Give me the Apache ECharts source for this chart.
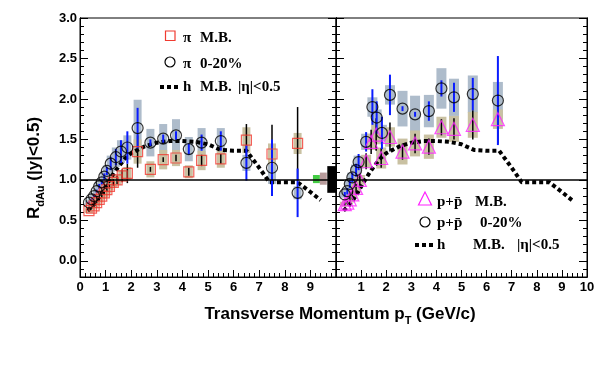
<!DOCTYPE html>
<html><head><meta charset="utf-8">
<script src="https://cdn.jsdelivr.net/npm/echarts@6/dist/echarts.min.js"></script>
<style>html,body{margin:0;padding:0;background:#fff}#c{width:600px;height:368px}</style>
</head><body><div id="c"></div>
<script>
// ---- Left panel: pi M.B. (red squares)
const piMbPt   = [0.35,0.45,0.55,0.65,0.75,0.85,0.95,1.05,1.15,1.3,1.45,1.65,1.85,2.25,2.75,3.25,3.75,4.25,4.75,5.5,6.5,7.5,8.5];
const piMbVal  = [0.62,0.65,0.68,0.72,0.76,0.80,0.84,0.88,0.92,0.97,1.00,1.05,1.08,1.35,1.13,1.25,1.27,1.10,1.24,1.26,1.49,1.32,1.45];
const piMbStat = [0.01,0.01,0.01,0.01,0.02,0.02,0.02,0.03,0.03,0.04,0.05,0.08,0.12,0.20,0.03,0.03,0.04,0.05,0.07,0.06,0.20,0.36,0.45];
const piMbSys  = [0.03,0.03,0.03,0.04,0.04,0.04,0.05,0.05,0.05,0.06,0.06,0.07,0.08,0.15,0.10,0.12,0.10,0.08,0.12,0.11,0.16,0.13,0.13];
// ---- Left panel: pi 0-20% (black circles)
const piCPt   = [0.35,0.45,0.55,0.65,0.75,0.85,0.95,1.05,1.2,1.4,1.6,1.85,2.25,2.75,3.25,3.75,4.25,4.75,5.5,6.5,7.5,8.5];
const piCVal  = [0.72,0.76,0.80,0.86,0.92,0.97,1.04,1.11,1.20,1.28,1.35,1.40,1.64,1.46,1.51,1.55,1.38,1.46,1.48,1.21,1.15,0.84];
const piCStat = [0.01,0.01,0.02,0.02,0.03,0.03,0.04,0.05,0.08,0.10,0.14,0.20,0.25,0.04,0.05,0.05,0.07,0.10,0.12,0.22,0.35,0.30];
const piCSys  = [0.03,0.03,0.04,0.04,0.05,0.05,0.06,0.07,0.10,0.12,0.14,0.15,0.35,0.17,0.18,0.20,0.15,0.18,0.16,0.10,0.20,0.08];
// ---- Right panel: p+pbar M.B. (magenta triangles)
const pMbPt   = [0.35,0.45,0.55,0.65,0.8,0.95,1.2,1.4,1.6,1.8,2.15,2.65,3.15,3.7,4.2,4.7,5.45,6.45];
const pMbVal  = [0.70,0.72,0.76,0.82,0.90,1.00,1.23,1.47,1.56,1.27,1.53,1.35,1.45,1.41,1.65,1.63,1.68,1.75];
const pMbStat = [0.02,0.02,0.03,0.04,0.05,0.07,0.10,0.15,0.20,0.12,0.18,0.10,0.12,0.10,0.10,0.13,0.18,0.30];
const pMbSys  = [0.03,0.03,0.04,0.04,0.05,0.06,0.08,0.10,0.12,0.13,0.12,0.16,0.16,0.15,0.13,0.16,0.16,0.12];
// ---- Right panel: p+pbar 0-20% (black circles)
const pCPt   = [0.35,0.45,0.55,0.65,0.8,0.9,1.2,1.45,1.62,1.83,2.15,2.65,3.15,3.7,4.2,4.7,5.45,6.45];
const pCVal  = [0.82,0.86,0.95,1.03,1.12,1.22,1.47,1.90,1.77,1.58,2.05,1.88,1.81,1.85,2.13,2.02,2.06,1.98];
const pCStat = [0.03,0.04,0.05,0.06,0.08,0.10,0.12,0.22,0.20,0.20,0.25,0.03,0.03,0.12,0.10,0.18,0.20,0.55];
const pCSys  = [0.04,0.04,0.05,0.06,0.07,0.08,0.10,0.12,0.10,0.10,0.12,0.22,0.23,0.20,0.25,0.23,0.23,0.23];
// ---- h M.B. |eta|<0.5 (dotted curve, both panels)
const hPt  = [0.3,0.5,0.7,0.9,1.1,1.3,1.5,1.75,2.0,2.5,3.0,3.5,4.0,4.5,5.0,5.5,6.0,6.5,7.0,7.4,8.0,8.5,9.0,9.4];
const hVal = [0.62,0.68,0.76,0.86,0.97,1.07,1.16,1.26,1.33,1.41,1.46,1.48,1.48,1.47,1.44,1.37,1.36,1.36,1.15,0.97,0.97,0.97,0.85,0.75];
// ---- normalization uncertainty boxes at R=1 (left panel, right edge)
const normX0 = [9.10, 9.37, 9.66];
const normX1 = [9.37, 9.64, 10.0];
const normLo = [0.96, 0.94, 0.84];
const normHi = [1.06, 1.09, 1.17];
// ---- ticks
const yTicks = [0, 0.5, 1.0, 1.5, 2.0, 2.5, 3.0];

const GRAY = '#aebccb', TAN = '#c9c1a2', BLUE = '#0a1cff', RED = '#f03a30', MAG = '#ff22ff';
const normColors = ['#44cc44', '#b89c9c', '#000000'];

function boxSeries(xi, yi, pts, vals, errs, color, hw) {
  return { type: 'custom', xAxisIndex: xi, yAxisIndex: yi, clip: true, silent: true, z: 1,
    data: pts.map((p, i) => [p, vals[i] - errs[i], vals[i] + errs[i]]),
    encode: { x: 0, y: [1, 2] },
    renderItem(params, api) {
      const a = api.coord([api.value(0), api.value(2)]);
      const b = api.coord([api.value(0), api.value(1)]);
      return { type: 'rect', shape: { x: a[0] - hw, y: a[1], width: 2 * hw, height: b[1] - a[1] }, style: { fill: color } };
    } };
}
function errSeries(xi, yi, pts, vals, errs, color, w) {
  return { type: 'custom', xAxisIndex: xi, yAxisIndex: yi, clip: true, silent: true, z: 3,
    data: pts.map((p, i) => [p, vals[i] - errs[i], vals[i] + errs[i]]),
    encode: { x: 0, y: [1, 2] },
    renderItem(params, api) {
      const a = api.coord([api.value(0), api.value(2)]);
      const b = api.coord([api.value(0), api.value(1)]);
      return { type: 'line', shape: { x1: a[0], y1: a[1], x2: b[0], y2: b[1] }, style: { stroke: color, lineWidth: w } };
    } };
}
function markSeries(xi, yi, pts, vals, symbol, size, color) {
  return { type: 'scatter', xAxisIndex: xi, yAxisIndex: yi, symbol, symbolSize: size, z: 4, silent: true,
    data: pts.map((p, i) => [p, vals[i]]),
    itemStyle: { color: 'rgba(0,0,0,0)', borderColor: color, borderWidth: 1.2 } };
}
function hSeries(xi, yi) {
  return { type: 'line', xAxisIndex: xi, yAxisIndex: yi, symbol: 'none', z: 2, silent: true, clip: true,
    data: hPt.map((p, i) => [p, hVal[i]]),
    lineStyle: { color: '#000', width: 4, type: [4, 3], cap: 'butt' },
    markLine: { silent: true, symbol: 'none', label: { show: false }, animation: false,
      lineStyle: { color: '#000', width: 1.5, type: 'solid' }, data: [{ yAxis: 1 }] } };
}

const axisFont = { fontFamily: 'Liberation Sans, Arial, sans-serif', fontWeight: 'bold', fontSize: 13, color: '#000' };
function xAx(gi, hideVal) {
  return { type: 'value', gridIndex: gi, min: 0, max: 10, interval: 1,
    axisLine: { show: true, onZero: false, lineStyle: { color: '#000', width: 1 } },
    axisTick: { show: true, inside: true, length: 7, lineStyle: { color: '#000' } },
    minorTick: { show: true, splitNumber: 5, length: 4, lineStyle: { color: '#000' } },
    splitLine: { show: false }, minorSplitLine: { show: false },
    axisLabel: Object.assign({}, axisFont, { margin: 4, formatter: v => (v === hideVal ? '' : String(v)) }) };
}
function yAx(gi, pos, major, labels) {
  return { type: 'value', gridIndex: gi, position: pos, min: -0.2, max: 3, interval: 0.1,
    axisLine: { show: true, onZero: false, lineStyle: { color: '#000', width: 1 } },
    axisTick: major ? { show: true, inside: true, length: 8, customValues: yTicks, lineStyle: { color: '#000' } }
                    : { show: true, inside: true, length: 4, lineStyle: { color: '#000' } },
    axisLabel: labels ? Object.assign({}, axisFont, { margin: 3, customValues: yTicks, formatter: v => v.toFixed(1) }) : { show: false },
    splitLine: { show: false } };
}

const serif = 'Liberation Serif, Times New Roman, serif';
function t(x, y, text, extra) {
  return Object.assign({ type: 'text', x, y, style: { text, font: 'bold 15px ' + serif, fill: '#000', textVerticalAlign: 'middle', textAlign: 'left' } }, extra || {});
}
const dotted = (x1, x2, y) => ({ type: 'line', shape: { x1, y1: y, x2, y2: y }, style: { stroke: '#000', lineWidth: 4, lineDash: [4, 3] } });

const chart = echarts.init(document.getElementById('c'), null, { renderer: 'canvas' });
chart.setOption({
  animation: false,
  backgroundColor: '#fff',
  grid: [
    { left: 80, top: 18, width: 256, height: 259, show: true, borderColor: '#000', borderWidth: 1, backgroundColor: 'rgba(0,0,0,0)' },
    { left: 336, top: 18, width: 251, height: 259, show: true, borderColor: '#000', borderWidth: 1, backgroundColor: 'rgba(0,0,0,0)' }
  ],
  xAxis: [xAx(0, 10), xAx(1, 0)],
  yAxis: [yAx(0, 'left', false, false), yAx(0, 'left', true, true), yAx(0, 'right', false, false), yAx(0, 'right', true, false),
          yAx(1, 'left', false, false), yAx(1, 'left', true, false), yAx(1, 'right', false, false), yAx(1, 'right', true, false)],
  series: [
    boxSeries(0, 0, piCPt, piCVal, piCSys, GRAY, 4),
    boxSeries(0, 0, piMbPt, piMbVal, piMbSys, TAN, 4),
    boxSeries(1, 4, pCPt, pCVal, pCSys, GRAY, 5),
    boxSeries(1, 4, pMbPt, pMbVal, pMbSys, TAN, 5),
    { type: 'custom', xAxisIndex: 0, yAxisIndex: 0, clip: false, silent: true, z: 2,
      data: normX0.map((x, i) => [x, normX1[i], normLo[i], normHi[i]]),
      encode: { x: [0, 1], y: [2, 3] },
      renderItem(params, api) {
        const a = api.coord([api.value(0), api.value(3)]);
        const b = api.coord([api.value(1), api.value(2)]);
        return { type: 'rect', shape: { x: a[0], y: a[1], width: b[0] - a[0], height: b[1] - a[1] }, style: { fill: normColors[params.dataIndex] } };
      } },
    hSeries(0, 0),
    hSeries(1, 4),
    errSeries(0, 0, piMbPt, piMbVal, piMbStat, '#000', 1.5),
    errSeries(0, 0, piCPt, piCVal, piCStat, BLUE, 2),
    errSeries(1, 4, pMbPt, pMbVal, pMbStat, '#000', 1.5),
    errSeries(1, 4, pCPt, pCVal, pCStat, BLUE, 2),
    markSeries(0, 0, piMbPt, piMbVal, 'rect', 10, RED),
    markSeries(0, 0, piCPt, piCVal, 'circle', 11, '#000'),
    markSeries(1, 4, pMbPt, pMbVal, 'triangle', 13, MAG),
    markSeries(1, 4, pCPt, pCVal, 'circle', 11, '#000')
  ],
  graphic: [
    // left legend
    { type: 'rect', shape: { x: 165.5, y: 31, width: 9.5, height: 9.5 }, style: { fill: 'none', stroke: RED, lineWidth: 1.2 } },
    t(183, 38, 'π'), t(200, 38, 'M.B.'),
    { type: 'circle', shape: { cx: 170, cy: 62, r: 5 }, style: { fill: 'none', stroke: '#000', lineWidth: 1.2 } },
    t(183, 64, 'π'), t(200, 64, '0-20%'),
    dotted(160, 180, 87),
    t(183, 87, 'h'), t(200, 87, 'M.B.'), t(238, 87, '|η|<0.5'),
    // right legend
    { type: 'polygon', shape: { points: [[425, 192], [418.5, 205], [431.5, 205]] }, style: { fill: 'none', stroke: MAG, lineWidth: 1.2 } },
    t(437, 202, 'p+p\u0304'), t(475, 202, 'M.B.'),
    { type: 'circle', shape: { cx: 425, cy: 222, r: 5 }, style: { fill: 'none', stroke: '#000', lineWidth: 1.2 } },
    t(437, 223, 'p+p\u0304'), t(480, 223, '0-20%'),
    dotted(415, 433, 245),
    t(437, 245, 'h'), t(473, 245, 'M.B.'), t(517, 245, '|η|<0.5'),
    // axis titles
    { type: 'text', x: 34, y: 168, rotation: Math.PI / 2,
      style: { text: '{a|R}{s|dAu}{a| (|y|<0.5)}', textAlign: 'center', textVerticalAlign: 'middle',
        rich: { a: { font: 'bold 17px Liberation Sans, Arial, sans-serif', fill: '#000', lineHeight: 24, verticalAlign: 'middle' },
                s: { font: 'bold 11px Liberation Sans, Arial, sans-serif', fill: '#000', lineHeight: 12, verticalAlign: 'bottom' } } } },
    { type: 'text', x: 340, y: 314,
      style: { text: '{a|Transverse Momentum p}{s|T}{a| (GeV/c)}', textAlign: 'center', textVerticalAlign: 'middle',
        rich: { a: { font: 'bold 17px Liberation Sans, Arial, sans-serif', fill: '#000', lineHeight: 24, verticalAlign: 'middle' },
                s: { font: 'bold 11px Liberation Sans, Arial, sans-serif', fill: '#000', lineHeight: 12, verticalAlign: 'bottom' } } } }
  ]
});
</script></body></html>
